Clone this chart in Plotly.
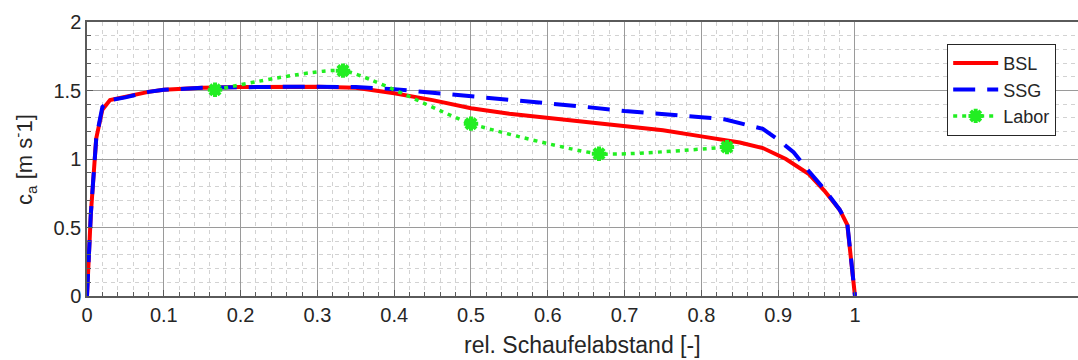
import plotly.graph_objects as go

# ---- data ----
x_bsl = [0, 0.005, 0.012, 0.02, 0.03, 0.05, 0.08, 0.1, 0.15, 0.2, 0.25, 0.3, 0.35, 0.4,
         0.45, 0.5, 0.55, 0.6, 0.65, 0.7, 0.75, 0.8, 0.85, 0.88, 0.91, 0.94, 0.96, 0.98,
         0.99, 1.0]
y_bsl = [0, 0.6, 1.15, 1.36, 1.43, 1.455, 1.49, 1.505, 1.52, 1.525, 1.527, 1.527, 1.52,
         1.48, 1.43, 1.37, 1.33, 1.30, 1.27, 1.24, 1.21, 1.165, 1.12, 1.08, 1.0, 0.89,
         0.77, 0.63, 0.52, 0.0]

x_ssg = [0, 0.005, 0.012, 0.02, 0.03, 0.05, 0.08, 0.1, 0.15, 0.2, 0.25, 0.3, 0.35, 0.4,
         0.45, 0.5, 0.55, 0.6, 0.65, 0.7, 0.75, 0.8, 0.83, 0.86, 0.88, 0.9, 0.92, 0.94,
         0.96, 0.98, 0.99, 1.0]
y_ssg = [0, 0.6, 1.15, 1.38, 1.43, 1.45, 1.49, 1.505, 1.52, 1.525, 1.527, 1.527, 1.525,
         1.51, 1.485, 1.455, 1.43, 1.405, 1.38, 1.35, 1.33, 1.305, 1.29, 1.25, 1.22,
         1.14, 1.05, 0.91, 0.78, 0.63, 0.53, 0.0]

x_labor = [0.1667, 0.3333, 0.5, 0.6667, 0.8333]
y_labor = [1.505, 1.645, 1.258, 1.038, 1.087]

x_ticks = [0, 0.1, 0.2, 0.3, 0.4, 0.5, 0.6, 0.7, 0.8, 0.9, 1]
x_ticktext = ["0", "0.1", "0.2", "0.3", "0.4", "0.5", "0.6", "0.7", "0.8", "0.9", "1"]
x_minor = [round(i * 0.02, 2) for i in range(51) if i % 5 != 0]
y_ticks = [0, 0.5, 1, 1.5, 2]
y_ticktext = ["0", "0.5", "1", "1.5", "2"]

FONT = "Liberation Sans, Arial, sans-serif"
TXT = "#262626"

fig = go.Figure()
fig.add_trace(go.Scatter(x=x_bsl, y=y_bsl, name="BSL", mode="lines",
                         line=dict(color="#ff0000", width=4)))
fig.add_trace(go.Scatter(x=x_ssg, y=y_ssg, name="SSG", mode="lines",
                         line=dict(color="#0000ff", width=4, dash="22px,12px")))
fig.add_trace(go.Scatter(x=x_labor, y=y_labor, name="Labor", mode="lines+markers",
                         line=dict(color="#22ee22", width=3.5, dash="4px,5px",
                                   shape="spline", smoothing=0.5),
                         marker=dict(symbol="asterisk", size=12, color="#22ee22",
                                     line=dict(color="#22ee22", width=4))))

fig.update_layout(
    width=1078, height=360,
    margin=dict(l=87, r=0, t=22, b=64),
    paper_bgcolor="white", plot_bgcolor="white",
    font=dict(family=FONT, size=20, color=TXT),
    showlegend=True,
    legend=dict(x=0.868, y=0.92, xanchor="left", yanchor="top",
                bgcolor="white", bordercolor="#262626", borderwidth=1,
                font=dict(size=18, color=TXT), tracegroupgap=0,
                itemwidth=45),
    xaxis=dict(range=[0, 1.2904], tickmode="array", tickvals=x_ticks, ticktext=x_ticktext,
               showgrid=True, gridcolor="#9a9a9a", gridwidth=1,
               showline=True, linecolor="#5a5a5a", linewidth=1.5, mirror=True,
               ticks="inside", ticklen=6, tickcolor="#5a5a5a",
               zeroline=False, tickfont=dict(size=20, color=TXT),
               minor=dict(tickmode="array", tickvals=x_minor, showgrid=True,
                          gridcolor="#d2d2d2", griddash="4px,4px", gridwidth=1,
                          ticks="inside", ticklen=4, tickcolor="#5a5a5a")),
    yaxis=dict(range=[0, 2], tickmode="array", tickvals=y_ticks, ticktext=y_ticktext,
               showgrid=True, gridcolor="#9a9a9a", gridwidth=1,
               showline=True, linecolor="#5a5a5a", linewidth=1.5, mirror=False,
               ticks="inside", ticklen=6, tickcolor="#5a5a5a",
               zeroline=False, tickfont=dict(size=20, color=TXT),
               minor=dict(dtick=0.1, tick0=0, showgrid=True,
                          gridcolor="#d2d2d2", griddash="4px,4px", gridwidth=1,
                          ticks="inside", ticklen=4, tickcolor="#5a5a5a")),
    annotations=[
        dict(text="rel. Schaufelabstand [-]", xref="paper", yref="paper", x=0.5, y=-0.179,
             xanchor="center", yanchor="middle", showarrow=False,
             font=dict(size=23, color=TXT)),
        dict(text="c<sub>a</sub> [m s<sup>-</sup>1]", xref="paper", yref="paper",
             x=-0.0636, y=0.5, xanchor="center", yanchor="middle", textangle=-90,
             showarrow=False, font=dict(size=22, color=TXT)),
    ],
)

fig.write_html("out.html")
